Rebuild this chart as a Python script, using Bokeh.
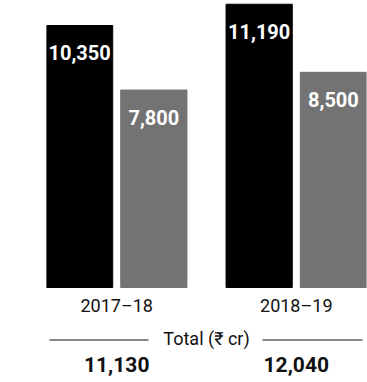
from bokeh.plotting import figure
from bokeh.models import FactorRange, Range1d, ColumnDataSource, BoxAnnotation, Label
from bokeh.core.properties import value
from bokeh.embed import file_html
from bokeh.resources import INLINE

years = ["2017–18", "2018–19"]
series = ["A", "B"]
values_a = [10350, 11190]
values_b = [7800, 8500]
totals = [11130, 12040]
total_title = "Total (₹ cr)"

BLACK = "#000000"
GRAY = "#737373"

factors = [(y, s) for y in years for s in series]
vals = [v for pair in zip(values_a, values_b) for v in pair]
colors = [BLACK, GRAY] * len(years)
labels = [f"{v:,}" for v in vals]

bar_src = ColumnDataSource(dict(x=factors, top=vals, color=colors, label=labels))
cat_src = ColumnDataSource(dict(x=years, y=[0] * len(years), text=years))
tot_src = ColumnDataSource(dict(x=years, y=[0] * len(years), text=[f"{t:,}" for t in totals]))

upp = 10350 / 262.0  # data units per pixel
p = figure(width=367, height=382,
           x_range=FactorRange(*factors, factor_padding=8 / 66, group_padding=39 / 66, range_padding=0),
           y_range=Range1d(-95 * upp, 287 * upp),
           output_backend="svg", toolbar_location=None,
           x_axis_location=None, y_axis_location=None,
           min_border=0, min_border_left=46, min_border_right=1)
p.grid.visible = False
p.outline_line_color = None
p.background_fill_color = "white"
p.border_fill_color = "white"

p.vbar(x="x", top="top", bottom=0, width=1.0, color="color", source=bar_src)

p.text(x="x", y="top", text="label", source=bar_src, y_offset=27,
       text_align="center", text_baseline="middle", text_color="white",
       text_font=value("Roboto"), text_font_style="bold", text_font_size="20px")

p.text(x="x", y="y", text="text", source=cat_src, y_offset=18,
       text_align="center", text_baseline="middle", text_color="#111111",
       text_font=value("Roboto"), text_font_size="18px")

p.text(x="x", y="y", text="text", source=tot_src, y_offset=77,
       text_align="center", text_baseline="middle", text_color="#111111",
       text_font=value("Roboto"), text_font_style="bold", text_font_size="21px")

p.add_layout(Label(x=160, y=0, x_units="screen", y_offset=-51, text=total_title,
                   text_align="center", text_baseline="middle", text_color="#111111",
                   text_font="Roboto", text_font_size="18px"))

for l, r in [(3, 102), (216, 316)]:
    p.add_layout(BoxAnnotation(left=l, right=r, left_units="screen", right_units="screen",
                               top=-52 * upp, bottom=-53 * upp,
                               fill_color="#111111", fill_alpha=1, line_color=None))

open("out.html", "w").write(file_html(p, INLINE))
